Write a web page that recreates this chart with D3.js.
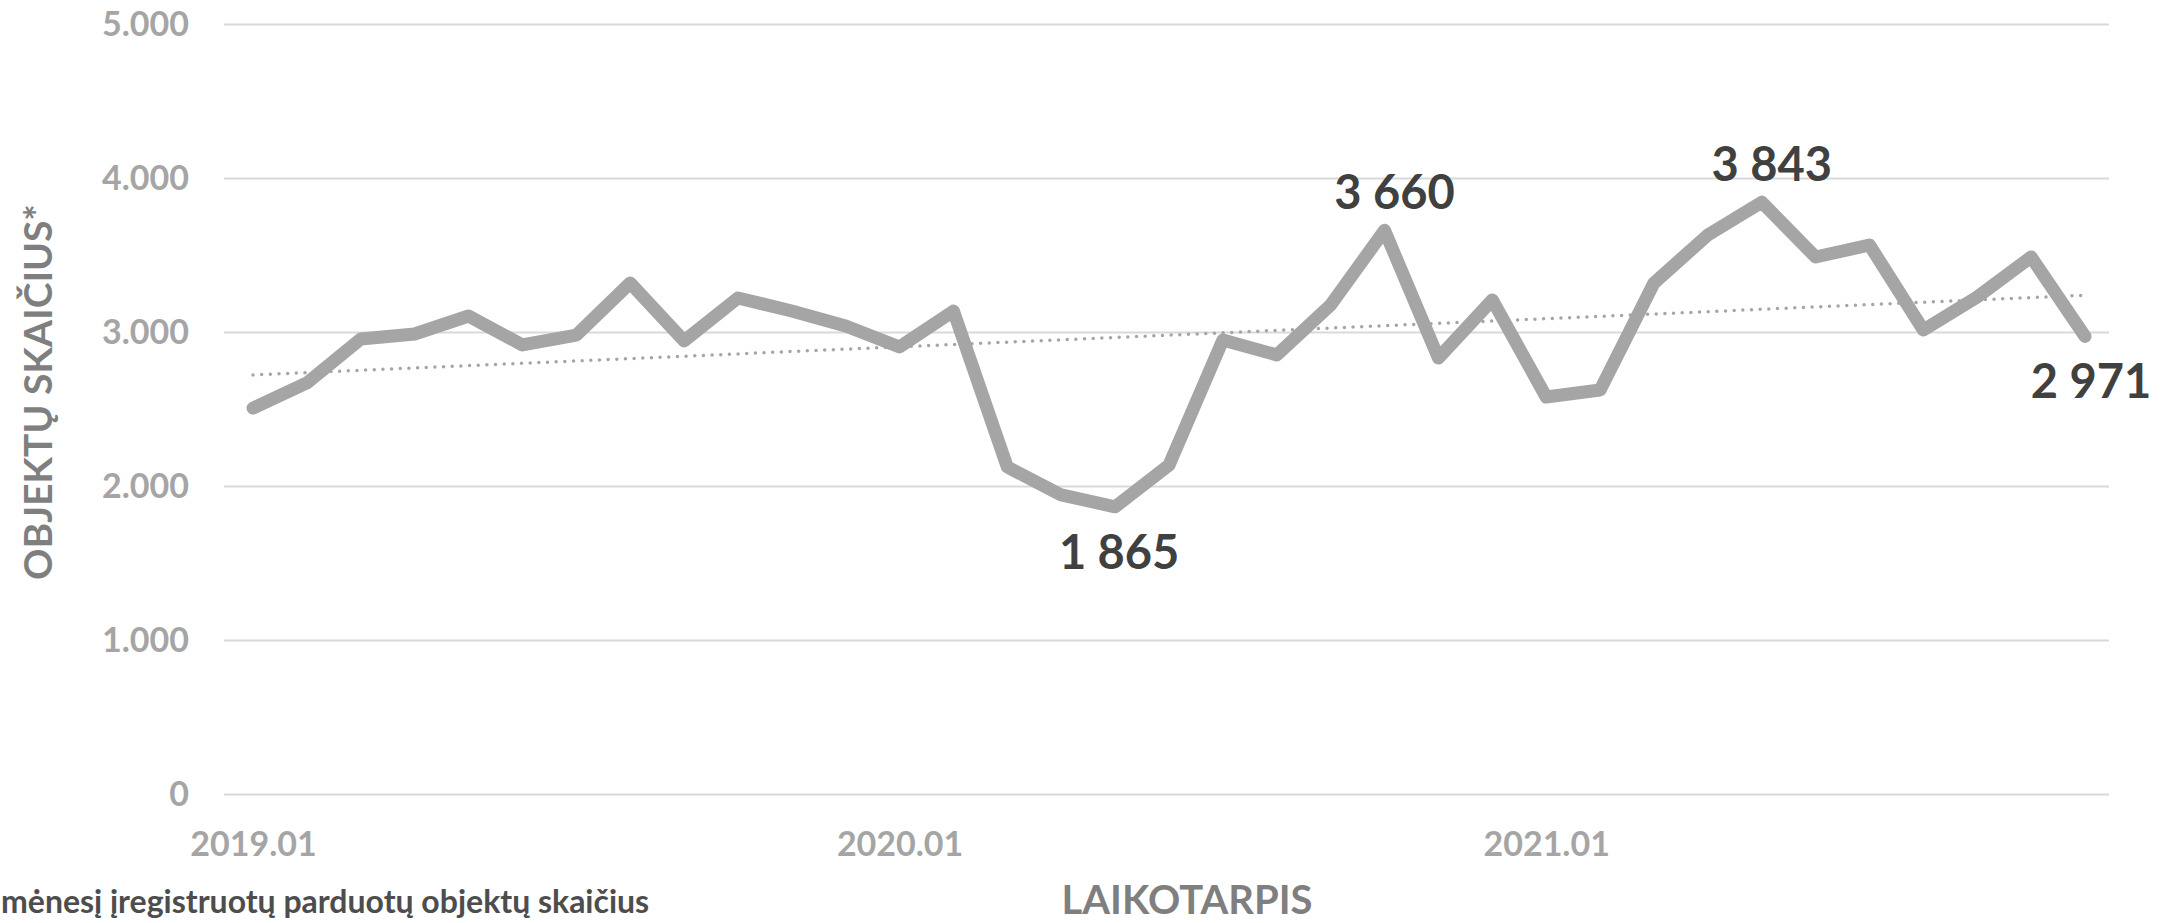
<!DOCTYPE html>
<html>
<head>
<meta charset="utf-8">
<script src="https://cdn.jsdelivr.net/npm/d3@7"></script>
<style>
  body { margin: 0; background: #fff; }
  text { font-family: Lato, "Noto Sans", sans-serif; font-weight: bold; }
</style>
</head>
<body>
<script>
// Months on the x axis
var months = ["2019.01","2019.02","2019.03","2019.04","2019.05","2019.06","2019.07","2019.08","2019.09","2019.10","2019.11","2019.12",
              "2020.01","2020.02","2020.03","2020.04","2020.05","2020.06","2020.07","2020.08","2020.09","2020.10","2020.11","2020.12",
              "2021.01","2021.02","2021.03","2021.04","2021.05","2021.06","2021.07","2021.08","2021.09","2021.10","2021.11"];

// Sold objects registered per month
var counts = [2506, 2669, 2955, 2987, 3104, 2916, 2980, 3318, 2942, 3221, 3136, 3039,
              2903, 3136, 2123, 1942, 1865, 2136, 2948, 2851, 3175, 3660, 2831, 3208,
              2578, 2623, 3318, 3630, 3843, 3487, 3565, 3013, 3227, 3487, 2971];

var xTickLabels = ["2019.01", "2020.01", "2021.01"];
var yTickValues = [0, 1000, 2000, 3000, 4000, 5000];
var labelledMonths = ["2020.05", "2020.10", "2021.05", "2021.11"];

var width = 2167, height = 923;
var lineColor = "#a5a5a5";

var svg = d3.select("body").append("svg")
  .attr("width", width)
  .attr("height", height);

var x = d3.scalePoint()
  .domain(months)
  .range([253, 2085]);

var y = d3.scaleLinear()
  .domain([0, 5000])
  .range([794, 24]);

var dotFmt = d3.formatLocale({decimal: ",", thousands: ".", grouping: [3], currency: ["", ""]}).format(",");
var spaceFmt = d3.formatLocale({decimal: ",", thousands: " ", grouping: [3], currency: ["", ""]}).format(",");

// gridlines + y labels
var yAxis = svg.append("g")
  .attr("transform", "translate(224,0)")
  .call(d3.axisLeft(y).tickValues(yTickValues).tickFormat(dotFmt).tickSize(-(2109 - 224)).tickPadding(35));
yAxis.select(".domain").remove();
yAxis.selectAll(".tick line").attr("stroke", "#d9d9d9").attr("stroke-width", 2);
yAxis.selectAll(".tick text")
  .attr("fill", "#a5a5a5")
  .attr("font-size", 34)
  .attr("dy", "0.35em");

// x labels
var xAxis = svg.append("g")
  .attr("transform", "translate(0,794)")
  .call(d3.axisBottom(x).tickValues(xTickLabels).tickSize(0).tickPadding(38));
xAxis.select(".domain").remove();
xAxis.selectAll(".tick text")
  .attr("fill", "#a5a5a5")
  .attr("font-size", 34)
  .attr("dy", "0.71em");

// linear trend (least squares)
var n = counts.length;
var meanI = (n - 1) / 2;
var meanV = d3.mean(counts);
var sxy = 0, sxx = 0;
counts.forEach(function (v, i) {
  sxy += (i - meanI) * (v - meanV);
  sxx += (i - meanI) * (i - meanI);
});
var slope = sxy / sxx;
var intercept = meanV - slope * meanI;

svg.append("path")
  .datum(months)
  .attr("fill", "none")
  .attr("stroke", lineColor)
  .attr("stroke-width", 3.5)
  .attr("stroke-linecap", "round")
  .attr("stroke-dasharray", "0 8.67")
  .attr("d", d3.line()
    .x(function (d) { return x(d); })
    .y(function (d, i) { return y(intercept + slope * i); }));

// main line
svg.append("path")
  .datum(counts)
  .attr("fill", "none")
  .attr("stroke", lineColor)
  .attr("stroke-width", 13)
  .attr("stroke-linecap", "round")
  .attr("stroke-linejoin", "round")
  .attr("d", d3.line()
    .x(function (d, i) { return x(months[i]); })
    .y(function (d) { return y(d); }));

// value labels
var minV = d3.min(counts);
svg.selectAll(".vlabel")
  .data(labelledMonths)
  .enter()
  .append("text")
  .attr("class", "vlabel")
  .attr("text-anchor", "middle")
  .attr("fill", "#404040")
  .attr("font-size", 47)
  .attr("x", function (m) {
    var i = months.indexOf(m);
    return x(m) + (i === n - 1 ? 6 : (counts[i] === minV ? 4 : 10));
  })
  .attr("y", function (m) {
    var i = months.indexOf(m);
    var below = (i === n - 1 || counts[i] === minV);
    return below ? y(counts[i]) + 62 : y(counts[i]) - 21;
  })
  .text(function (m) { return spaceFmt(counts[months.indexOf(m)]); });

// axis titles
svg.append("text")
  .attr("transform", "translate(52,392) rotate(-90)")
  .attr("text-anchor", "middle")
  .attr("fill", "#7f7f7f")
  .attr("font-size", 39)
  .text("OBJEKTŲ SKAIČIUS*");

svg.append("text")
  .attr("x", 1187)
  .attr("y", 914)
  .attr("text-anchor", "middle")
  .attr("fill", "#7f7f7f")
  .attr("font-size", 40)
  .text("LAIKOTARPIS");

// footnote
svg.append("text")
  .attr("x", 1)
  .attr("y", 913)
  .attr("fill", "#4d4d4d")
  .attr("font-size", 32)
  .text("mėnesį įregistruotų parduotų objektų skaičius");
</script>
</body>
</html>
